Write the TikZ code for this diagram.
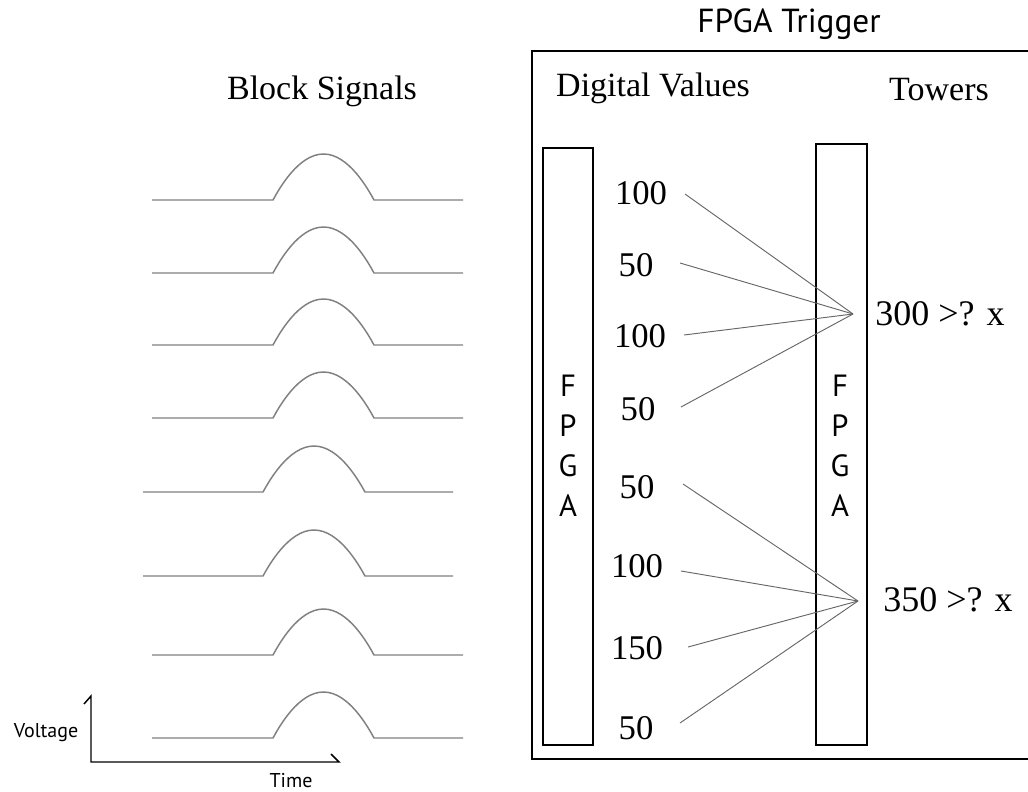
\documentclass[tikz,border=0pt]{standalone}
\usepackage{fontspec}
\setmainfont{Liberation Serif}
\newfontfamily\sansf{PT Sans}
\begin{document}
\begin{tikzpicture}[x=0.75pt,y=-0.75pt,
  sig/.style={draw=black!50, line width=1.1pt},
  conn/.style={draw=black!60, line width=0.7pt},
  fbox/.style={draw=black, line width=1pt, inner sep=0pt},
  axisline/.style={draw=black, line width=1.1pt},
  ttl/.style={anchor=base, inner sep=0pt, font=\fontsize{25.5}{30}\selectfont},
  num/.style={anchor=base, inner sep=0pt, font=\fontsize{26}{30}\selectfont},
  cmp/.style={anchor=base, inner sep=0pt, font=\fontsize{27}{30}\selectfont},
  letters/.style={align=center, inner sep=0pt, font=\sansf\fontsize{23}{30}\selectfont},
  small/.style={anchor=base, inner sep=0pt, font=\sansf\fontsize{15}{18}\selectfont}]
\useasboundingbox (0,0) rectangle (1028,792);
\clip (0,0) rectangle (1028,792);

% titles
\node[ttl] (bs) at (322,99) {Block Signals};
\node[anchor=base, inner sep=0pt, font=\sansf\fontsize{25}{30}\selectfont] (ft) at (789,33) {FPGA Trigger};
\node[ttl] (dv) at (653,97) {Digital Values};
\node[ttl] (tw) at (939,100) {Towers};

% signals
\foreach \xs/\xa/\xb/\xe/\y in {152/273/374/463/200, 152/273/374/463/273, 152/273/374/463/345,
  152/273/374/463/418, 143/263/365/453/492, 143/263/365/453/576, 152/273/374/463/655, 152/273/374/463/738}{
  \draw[sig] (\xs,\y) -- (\xa,\y) parabola bend ({(\xa+\xb)/2},{\y-46}) (\xb,\y) -- (\xe,\y);
}

% axes
\draw[axisline] (84,704) -- (91,696) -- (91,762) -- (339,762) -- (331,754);
\node[small] (volt) at (46,737) {Voltage};
\node[small] (time) at (291,787) {Time};

% outer box
\draw[line width=1.3pt] (532,51) rectangle (1045,759);

% FPGA boxes
\node[fbox, minimum width=37.5pt, minimum height=447.75pt] (fl) at (568,446.5) {};
\node[fbox, minimum width=38.25pt, minimum height=450.75pt] (fr) at (841.5,444.5) {};
\node[letters] (fll) at (568,446) {F\\P\\G\\A};
\node[letters] (frl) at (840,446) {F\\P\\G\\A};

% numbers
\node[num] (n1) at (641,204) {100};
\node[num] (n2) at (636,276) {50};
\node[num] (n3) at (640,347) {100};
\node[num] (n4) at (638,420) {50};
\node[num] (n5) at (637,498) {50};
\node[num] (n6) at (637,577) {100};
\node[num] (n7) at (637,659) {150};
\node[num] (n8) at (636,739) {50};

% comparisons
\node[cmp] (c1) at (940,325) {300 >? x};
\node[cmp] (c2) at (948,611) {350 >? x};

% connector points
\coordinate (t1) at (853,314);
\coordinate (t2) at (858,601);
\coordinate (s1) at (685,194);
\coordinate (s2) at (680,263);
\coordinate (s3) at (684,335);
\coordinate (s4) at (681,407);
\coordinate (s5) at (683,484);
\coordinate (s6) at (681,571);
\coordinate (s7) at (688,647);
\coordinate (s8) at (680,723);

\foreach \i in {1,2,3,4}{\draw[conn] (s\i) -- (t1);}
\foreach \i in {5,6,7,8}{\draw[conn] (s\i) -- (t2);}
\end{tikzpicture}
\end{document}
